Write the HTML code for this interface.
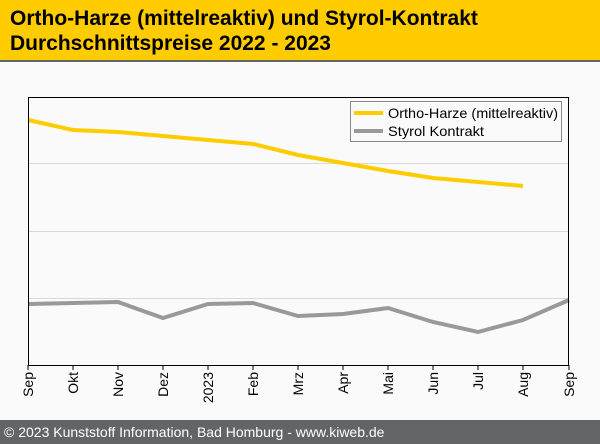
<!DOCTYPE html>
<html><head><style>
body{margin:0;width:600px;height:444px;background:#fafafa;font-family:"Liberation Sans",sans-serif;overflow:hidden;position:relative}
#hd{position:absolute;left:0;top:0;width:600px;height:60px;background:#ffcc00;border-bottom:2px solid #666}
#hd div{position:absolute;left:10px;font-weight:bold;font-size:21px;color:#000;line-height:24px}
#ft{position:absolute;left:0;top:420px;width:600px;height:24px;background:#636468;color:#fff;font-size:14px;line-height:24px;padding-left:4px;box-sizing:border-box}
</style></head><body>
<div id="hd"><div style="top:7px">Ortho-Harze (mittelreaktiv) und Styrol-Kontrakt</div><div style="top:32px">Durchschnittspreise 2022 - 2023</div></div>
<svg width="600" height="420" style="position:absolute;left:0;top:0" font-family="Liberation Sans, sans-serif">
<g stroke="#d8d8d8" stroke-width="1"><line x1="28" y1="163.5" x2="569" y2="163.5"/><line x1="28" y1="231.5" x2="569" y2="231.5"/><line x1="28" y1="298.5" x2="569" y2="298.5"/></g>
<polyline fill="none" stroke="#ffcc00" stroke-width="4" points="28,120 73,130 118,132 163,136 208,140 253,144 298,155 343,163 388,171 433,178 478,182 523,186"/>
<polyline fill="none" stroke="#999" stroke-width="4" points="28,304 73,303 118,302 163,318 208,304 253,303 298,316 343,314 388,308 433,322 478,332 523,320 569,300"/>
<rect x="28.5" y="97.5" width="540" height="268" fill="none" stroke="#000"/>
<rect x="350.5" y="101.5" width="211" height="40" fill="#fafafa" stroke="#888"/>
<line x1="354" y1="113" x2="383" y2="113" stroke="#ffcc00" stroke-width="4"/>
<line x1="354" y1="131" x2="383" y2="131" stroke="#999" stroke-width="4"/>
<text x="388" y="118" font-size="14" textLength="170" lengthAdjust="spacingAndGlyphs">Ortho-Harze (mittelreaktiv)</text>
<text x="388" y="136" font-size="14" textLength="96" lengthAdjust="spacingAndGlyphs">Styrol Kontrakt</text>
<g stroke="#000">
<line x1="28" y1="365" x2="28" y2="370"/><line x1="73" y1="365" x2="73" y2="370"/><line x1="118" y1="365" x2="118" y2="370"/><line x1="163" y1="365" x2="163" y2="370"/><line x1="208" y1="365" x2="208" y2="370"/><line x1="253" y1="365" x2="253" y2="370"/><line x1="298" y1="365" x2="298" y2="370"/><line x1="343" y1="365" x2="343" y2="370"/><line x1="388" y1="365" x2="388" y2="370"/><line x1="433" y1="365" x2="433" y2="370"/><line x1="478" y1="365" x2="478" y2="370"/><line x1="523" y1="365" x2="523" y2="370"/><line x1="569" y1="365" x2="569" y2="370"/>
</g>
<g font-size="14" text-anchor="end">
<text transform="translate(33,372) rotate(-90)">Sep</text>
<text transform="translate(78,372) rotate(-90)">Okt</text>
<text transform="translate(123,372) rotate(-90)">Nov</text>
<text transform="translate(168,372) rotate(-90)">Dez</text>
<text transform="translate(213,372) rotate(-90)">2023</text>
<text transform="translate(258,372) rotate(-90)">Feb</text>
<text transform="translate(303,372) rotate(-90)">Mrz</text>
<text transform="translate(348,372) rotate(-90)">Apr</text>
<text transform="translate(393,372) rotate(-90)">Mai</text>
<text transform="translate(438,372) rotate(-90)">Jun</text>
<text transform="translate(483,372) rotate(-90)">Jul</text>
<text transform="translate(528,372) rotate(-90)">Aug</text>
<text transform="translate(574,372) rotate(-90)">Sep</text>
</g>
</svg>
<div id="ft">© 2023 Kunststoff Information, Bad Homburg - www.kiweb.de</div>
</body></html>
